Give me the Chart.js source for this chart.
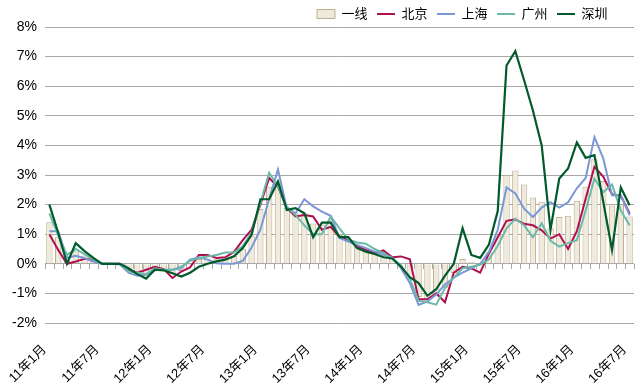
<!DOCTYPE html>
<html>
<head>
<meta charset="utf-8">
<script src="https://cdn.jsdelivr.net/npm/chart.js@4.4.1/dist/chart.umd.min.js"></script>
<style>
html,body{margin:0;padding:0;background:#ffffff;}
canvas{display:block;}
</style>
</head>
<body>
<canvas id="c" width="644" height="392"></canvas>
<script>
// ---------------- data ----------------
const months = [
 '11年1月','11年2月','11年3月','11年4月','11年5月','11年6月','11年7月','11年8月','11年9月','11年10月','11年11月','11年12月',
 '12年1月','12年2月','12年3月','12年4月','12年5月','12年6月','12年7月','12年8月','12年9月','12年10月','12年11月','12年12月',
 '13年1月','13年2月','13年3月','13年4月','13年5月','13年6月','13年7月','13年8月','13年9月','13年10月','13年11月','13年12月',
 '14年1月','14年2月','14年3月','14年4月','14年5月','14年6月','14年7月','14年8月','14年9月','14年10月','14年11月','14年12月',
 '15年1月','15年2月','15年3月','15年4月','15年5月','15年6月','15年7月','15年8月','15年9月','15年10月','15年11月','15年12月',
 '16年1月','16年2月','16年3月','16年4月','16年5月','16年6月','16年7月'
];
const tickLabels = ['11年1月','11年7月','12年1月','12年7月','13年1月','13年7月','14年1月','14年7月','15年1月','15年7月','16年1月','16年7月'];
const seriesNames = ['一线','北京','上海','广州','深圳'];

const tier1 = [1.4,0.9,0.12,0.42,0.28,0.14,0,0,0,-0.22,
 -0.34,-0.36,-0.17,-0.2,-0.3,-0.24,-0.05,0.16,0.17,0.15,
 0.19,0.26,0.51,0.95,1.85,2.59,2.79,1.89,1.71,1.71,
 1.36,1.33,1.47,0.97,0.82,0.62,0.52,0.4,0.33,0.2,
 -0.01,-0.36,-1.12,-1.21,-1.07,-0.81,-0.31,0.16,0.05,-0.03,
 0.39,1.0,3.0,3.15,2.68,2.24,2.1,1.2,1.58,1.62,
 2.13,2.6,3.53,2.8,1.97,2.0,1.6];
const beijing = [1.0,0.47,0,0.08,0.17,0.14,0,0,0,-0.2,
 -0.3,-0.2,-0.1,-0.18,-0.48,-0.26,-0.12,0.3,0.3,0.2,
 0.22,0.4,0.8,1.15,2.0,2.9,2.6,1.9,1.6,1.65,
 1.6,1.15,1.25,0.9,0.8,0.6,0.47,0.36,0.45,0.22,
 0.25,0.15,-1.2,-1.2,-1.0,-1.3,-0.3,-0.1,-0.15,-0.3,
 0.35,0.9,1.45,1.5,1.35,1.3,1.13,0.85,1.0,0.5,
 1.1,2.2,3.28,2.95,2.35,2.3,1.7];
const shanghai = [1.1,1.1,0.2,0.27,0.19,0.08,0,0,-0.02,-0.3,
 -0.4,-0.37,-0.22,-0.2,-0.2,-0.15,0.14,0.22,0.14,0.02,
 0,0,0.1,0.55,1.15,2.2,3.19,1.88,1.71,2.18,
 1.94,1.76,1.62,0.87,0.75,0.64,0.53,0.41,0.3,0.22,
 -0.15,-0.65,-1.39,-1.27,-1.04,-0.7,-0.47,-0.3,-0.15,0,
 0.4,1.15,2.58,2.38,1.86,1.58,1.9,2.08,1.9,2.08,
 2.55,2.9,4.28,3.56,2.32,2.32,1.64];
const guangzhou = [1.7,0.95,0.3,0.5,0.33,0.15,0,0,0,-0.25,
 -0.3,-0.35,-0.15,-0.2,-0.2,-0.1,0.1,0.2,0.25,0.3,
 0.38,0.38,0.6,1.05,2.05,3.08,2.6,1.94,1.65,1.3,
 1.0,1.0,1.6,1.2,0.82,0.72,0.68,0.5,0.36,0.18,
 -0.05,-0.5,-1.25,-1.3,-1.38,-0.82,-0.47,-0.15,-0.1,-0.03,
 0.15,0.6,1.2,1.52,1.3,0.9,1.37,0.78,0.58,0.7,
 0.8,1.8,2.88,2.42,2.68,1.8,1.3];
const shenzhen = [2.0,1.05,0,0.7,0.43,0.2,0,0,0,-0.15,
 -0.35,-0.5,-0.2,-0.22,-0.32,-0.43,-0.3,-0.1,0,0.08,
 0.14,0.25,0.53,0.98,2.18,2.18,2.78,1.82,1.88,1.71,
 0.9,1.39,1.39,0.9,0.9,0.53,0.41,0.33,0.22,0.18,
 -0.1,-0.45,-0.65,-1.08,-0.86,-0.4,0,1.2,0.3,0.2,
 0.65,1.78,6.7,7.18,6.2,5.18,4.0,1.15,2.88,3.22,
 4.1,3.58,3.67,2.1,0.47,2.58,1.98];
const yMin = -2, yMax = 8, yStep = 1;

// ---------------- styles ----------------
const BAR_FILL = '#F0EADC', BAR_BORDER = '#BDB092';
const C_BJ = '#B0104F', C_SH = '#7A98D8', C_GZ = '#6DB9A8', C_SZ = '#005A2C';
const GRID = '#A8A8A8';
const FONT = "'Liberation Sans', Arial, 'Noto Sans CJK SC', sans-serif";
Chart.defaults.font.family = FONT;
Chart.defaults.color = '#000000';

const layoutFix = {
  id: 'layoutFix',
  beforeLayout(chart) {
    const lg = chart.legend;
    if (lg && !lg._patched) {
      const f = lg.fit;
      lg.fit = function () { f.call(this); this.height = 27; };
      lg._patched = true;
    }
  },
  afterLayout(chart) {
    const lg = chart.legend;
    if (lg) { lg.top = -2; lg.bottom = 25; lg.right = 617; }
  }
};

const zeroTicks = {
  id: 'zeroTicks',
  beforeDatasetsDraw(chart) {
    const xs = chart.scales.x, ys = chart.scales.y;
    const y0 = ys.getPixelForValue(0);
    const ctx = chart.ctx;
    ctx.save();
    ctx.strokeStyle = GRID;
    ctx.lineWidth = 1;
    ctx.beginPath();
    const n = months.length;
    for (let k = 0; k <= n; k++) {
      let x;
      if (k === 0) x = xs.left;
      else if (k === n) x = xs.right;
      else x = (xs.getPixelForValue(k - 1) + xs.getPixelForValue(k)) / 2;
      x = Math.round(x) + 0.5;
      ctx.moveTo(x, Math.round(y0));
      ctx.lineTo(x, Math.round(y0) + 5);
    }
    ctx.stroke();
    ctx.restore();
  }
};

new Chart(document.getElementById('c'), {
  data: {
    labels: months,
    datasets: [
      { type: 'bar', label: seriesNames[0], data: tier1, backgroundColor: BAR_FILL, borderColor: BAR_BORDER,
        borderWidth: 1, barPercentage: 0.72, categoryPercentage: 1.0, order: 5 },
      { type: 'line', label: seriesNames[1], data: beijing, borderColor: C_BJ, borderWidth: 2, pointRadius: 0, tension: 0, fill: false, order: 4 },
      { type: 'line', label: seriesNames[2], data: shanghai, borderColor: C_SH, borderWidth: 2, pointRadius: 0, tension: 0, fill: false, order: 3 },
      { type: 'line', label: seriesNames[3], data: guangzhou, borderColor: C_GZ, borderWidth: 2, pointRadius: 0, tension: 0, fill: false, order: 2 },
      { type: 'line', label: seriesNames[4], data: shenzhen, borderColor: C_SZ, borderWidth: 2.2, pointRadius: 0, tension: 0, fill: false, order: 1 }
    ]
  },
  options: {
    responsive: false,
    animation: false,
    devicePixelRatio: 1,
    layout: { autoPadding: false, padding: { left: 0, right: 10, top: 0, bottom: 0 } },
    plugins: {
      tooltip: { enabled: false },
      legend: {
        position: 'top',
        align: 'end',
        labels: {
          usePointStyle: true,
          pointStyleWidth: 18,
          boxHeight: 9,
          padding: 9.5,
          font: { size: 13, family: FONT },
          color: '#000',
          generateLabels: () => [
            { text: seriesNames[0], fillStyle: BAR_FILL, strokeStyle: BAR_BORDER, lineWidth: 1, pointStyle: 'rect', datasetIndex: 0, hidden: false },
            { text: seriesNames[1], fillStyle: C_BJ, strokeStyle: C_BJ, lineWidth: 2, pointStyle: 'line', datasetIndex: 1, hidden: false },
            { text: seriesNames[2], fillStyle: C_SH, strokeStyle: C_SH, lineWidth: 2, pointStyle: 'line', datasetIndex: 2, hidden: false },
            { text: seriesNames[3], fillStyle: C_GZ, strokeStyle: C_GZ, lineWidth: 2, pointStyle: 'line', datasetIndex: 3, hidden: false },
            { text: seriesNames[4], fillStyle: C_SZ, strokeStyle: C_SZ, lineWidth: 2, pointStyle: 'line', datasetIndex: 4, hidden: false }
          ]
        }
      }
    },
    scales: {
      x: {
        type: 'category',
        offset: true,
        grid: { display: false, drawTicks: false },
        border: { display: false },
        afterFit(scale) { scale.height = 69; scale.paddingLeft = 0; scale.paddingRight = 0; },
        ticks: {
          autoSkip: false,
          minRotation: 45,
          maxRotation: 45,
          padding: 19,
          labelOffset: -5,
          font: { size: 13, family: FONT },
          color: '#000',
          callback(value, index) {
            const lab = months[index];
            return tickLabels.includes(lab) ? lab : '';
          }
        }
      },
      y: {
        min: yMin,
        max: yMax,
        grid: { color: GRID, lineWidth: 1, drawTicks: false },
        border: { display: false },
        afterFit(scale) { scale.width = 45; },
        ticks: {
          stepSize: yStep,
          padding: 8,
          font: { size: 14, family: FONT },
          color: '#000',
          callback: v => v + '%'
        }
      }
    }
  },
  plugins: [layoutFix, zeroTicks]
});
</script>
</body>
</html>
